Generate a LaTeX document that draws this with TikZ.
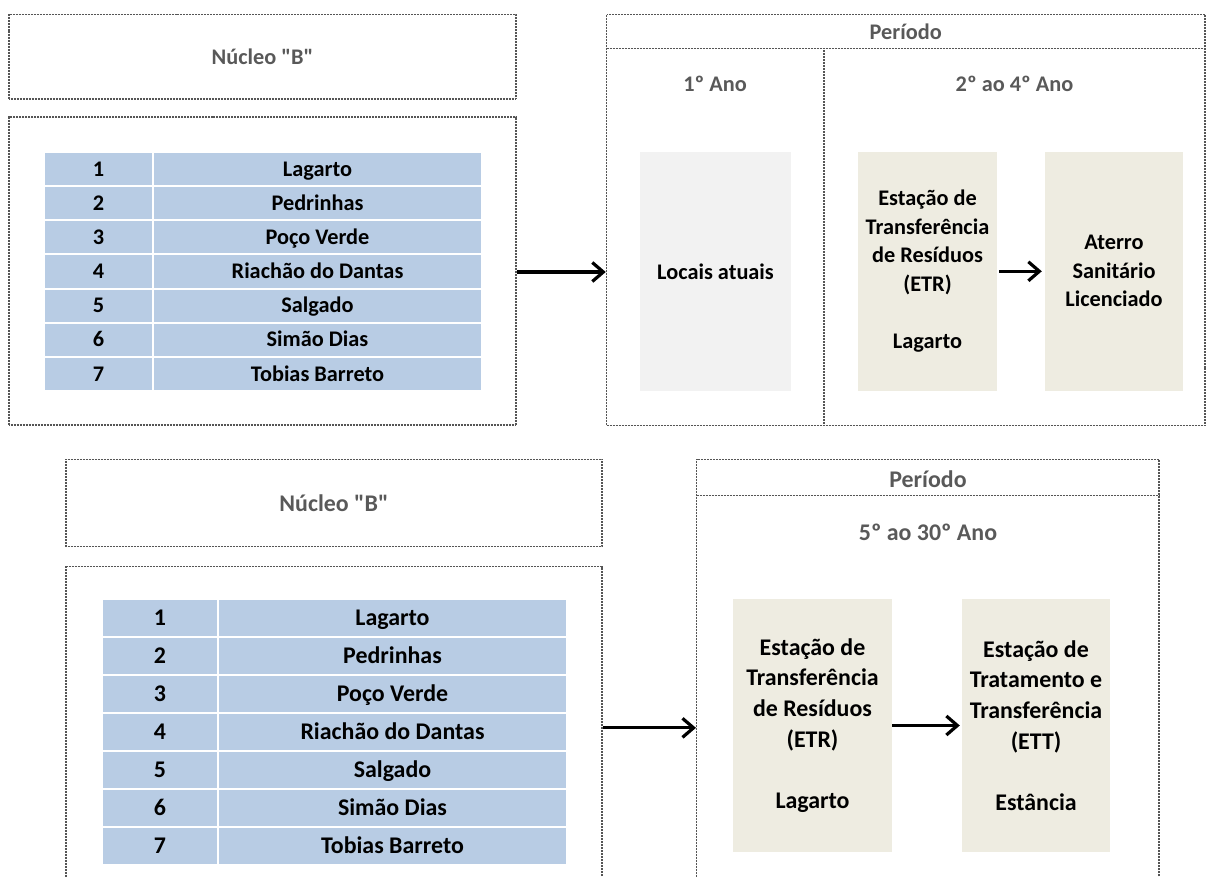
\documentclass[tikz,border=0pt]{standalone}
\usepackage{fontspec}
\setmainfont{Carlito}
\usetikzlibrary{arrows.meta}
\definecolor{cellblue}{HTML}{B8CCE4}
\definecolor{tanbox}{HTML}{EEECE1}
\definecolor{greybox}{HTML}{F2F2F2}
\definecolor{headgray}{HTML}{595959}
\definecolor{bordergray}{HTML}{555555}
\begin{document}
\begin{tikzpicture}[x=1pt,y=-1pt,
  frame/.style={draw=bordergray, line width=1.5pt, dash pattern=on 1pt off 0.5pt, inner sep=0pt},
  sepline/.style={draw=bordergray, line width=1.5pt, dash pattern=on 1pt off 0.5pt},
  head/.style={text=headgray, font=\fontsize{22.3}{27}\selectfont\bfseries},
  headb/.style={text=headgray, font=\fontsize{23.9}{29}\selectfont\bfseries},
  cella/.style={fill=cellblue, draw=white, line width=2pt, inner sep=0pt, text height=14.3pt, text depth=0pt, font=\fontsize{22.3}{27}\selectfont\bfseries},
  cellb/.style={fill=cellblue, draw=white, line width=2pt, inner sep=0pt, text height=15.3pt, text depth=0pt, font=\fontsize{23.9}{29}\selectfont\bfseries},
  stage/.style={fill=tanbox, inner sep=0pt, align=center, font=\fontsize{22.3}{28.5}\selectfont\bfseries},
  stageb/.style={fill=tanbox, inner sep=0pt, align=center, font=\fontsize{23.9}{30.7}\selectfont\bfseries},
  conn/.style={line width=3.2pt, -{Straight Barb[length=11pt,width=19pt,line width=3.2pt]}}
]
\useasboundingbox (0,0) rectangle (1206,877);
\clip (0,0) rectangle (1206,877);

% ---------- top half ----------
\node[frame, minimum width=507pt, minimum height=84.5pt] (nb1) at (262.5,56.75) {};
\node[head] (nb1t) at (nb1.center) {Núcleo \textquotedbl B\textquotedbl};
\node[frame, minimum width=507pt, minimum height=308pt] (tc1) at (262.5,271) {};

\foreach \i/\nm in {1/Lagarto,2/Pedrinhas,3/Poço Verde,4/Riachão do Dantas,5/Salgado,6/Simão Dias,7/Tobias Barreto}{
  \node[cella, minimum width=109pt, minimum height=34.14pt] (ta\i) at (98.5,{152+34.14*(\i-0.5)}) {\i};
  \node[cella, minimum width=329pt, minimum height=34.14pt] (tb\i) at (317.5,{152+34.14*(\i-0.5)}) {\nm};
}

\node[frame, minimum width=598.5pt, minimum height=411pt] (pb1) at (905.75,220) {};
\coordinate (h1l) at (606.5,48.3);
\coordinate (h1r) at (1205,48.3);
\draw[sepline] (h1l) -- (h1r);
\coordinate (d1t) at (824,48.3);
\coordinate (d1b) at (824,425.5);
\draw[sepline] (d1t) -- (d1b);
\node[head] (per1) at (905.75,31.5) {Período};
\node[head] (ano1) at (715,84) {1º Ano};
\node[head] (ano2) at (1014.5,84) {2º ao 4º Ano};

\node[fill=greybox, inner sep=0pt, minimum width=151pt, minimum height=238.7pt, font=\fontsize{22.3}{27}\selectfont\bfseries] (loc) at (715.5,271.3) {Locais atuais};
\node[stage, minimum width=139pt, minimum height=238.7pt] (etr1) at (927.5,271.3) {Estação de\\Transferência\\de Resíduos\\(ETR)\\[28.5pt]Lagarto};
\node[stage, minimum width=138pt, minimum height=238.7pt] (ater) at (1114,271.3) {Aterro\\Sanitário\\Licenciado};

\draw[conn] ([yshift=-1pt]tc1.east) -- ([yshift=-1pt]tc1.east -| pb1.west);
\draw[conn, shorten <=2pt, shorten >=3pt] (etr1.east) -- (ater.west);

% ---------- bottom half ----------
\node[frame, minimum width=536pt, minimum height=87.4pt] (nb2) at (334,503) {};
\node[headb] (nb2t) at (nb2.center) {Núcleo \textquotedbl B\textquotedbl};
\node[frame, minimum width=536pt, minimum height=322.3pt] (cont2) at (334,727.85) {};

\foreach \i/\nm in {1/Lagarto,2/Pedrinhas,3/Poço Verde,4/Riachão do Dantas,5/Salgado,6/Simão Dias,7/Tobias Barreto}{
  \node[cellb, minimum width=116pt, minimum height=38pt] (sa\i) at (160,{599+38*(\i-0.5)}) {\i};
  \node[cellb, minimum width=349pt, minimum height=38pt] (sb\i) at (392.5,{599+38*(\i-0.5)}) {\nm};
}

\node[frame, minimum width=462.3pt, minimum height=440.7pt] (pb2) at (927.85,679.65) {};
\coordinate (h2l) at (696.7,495.7);
\coordinate (h2r) at (1159,495.7);
\draw[sepline] (h2l) -- (h2r);
\node[headb] (per2) at (928,479) {Período};
\node[headb] (ano3) at (928,532) {5º ao 30º Ano};

\node[stageb, minimum width=159pt, minimum height=253pt] (etr2) at (812.5,725.5) {Estação de\\Transferência\\de Resíduos\\(ETR)\\[30.7pt]Lagarto};
\node[stageb, minimum width=148pt, minimum height=253pt] (ett) at (1036,725.5) {Estação de\\Tratamento e\\Transferência\\(ETT)\\[30.7pt]Estância};

\draw[conn] (cont2.east) -- (cont2.east -| pb2.west);
\draw[conn, shorten >=2pt] (etr2.east) -- (ett.west);
\end{tikzpicture}
\end{document}
